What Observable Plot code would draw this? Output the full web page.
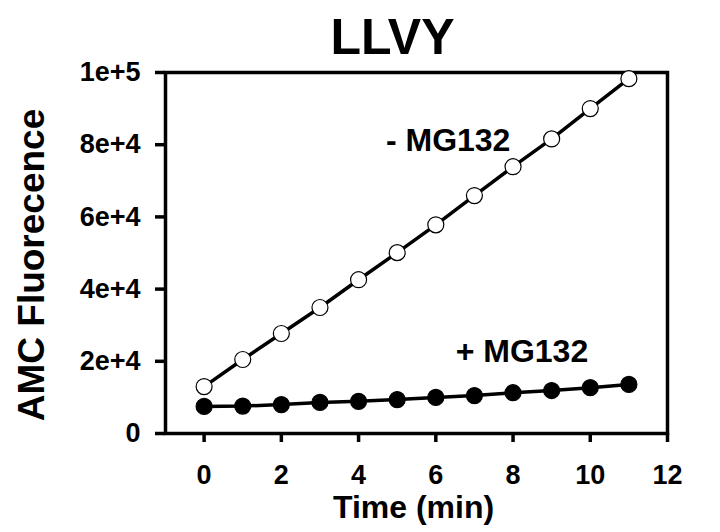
<!DOCTYPE html>
<html>
<head>
<meta charset="utf-8">
<script src="https://cdn.jsdelivr.net/npm/d3@7"></script>
<script src="https://cdn.jsdelivr.net/npm/@observablehq/plot@0.6"></script>
<style>
  html, body { margin: 0; padding: 0; background: #fff; }
  body { width: 720px; height: 532px; overflow: hidden; font-family: "Liberation Sans", Arial, sans-serif; }
  svg { display: block; }
  svg.llvy g[aria-label="y-axis tick label"],
  svg.llvy g[aria-label="x-axis tick label"] { font-size: 27px; font-weight: bold; }
</style>
</head>
<body>
<div id="chart"></div>
<script>
const chartTitle = "LLVY";
const time = [0, 1, 2, 3, 4, 5, 6, 7, 8, 9, 10, 11];
const minusMG132 = [13000, 20500, 27700, 34900, 42600, 50100, 57800, 65900, 73900, 81600, 90000, 98300];
const plusMG132 = [7500, 7600, 8000, 8600, 8900, 9400, 10000, 10500, 11300, 11900, 12700, 13600];
const xTicks = [0, 2, 4, 6, 8, 10, 12];
const yTicks = [0, 20000, 40000, 60000, 80000, 100000];
const yTickLabels = ["0", "2e+4", "4e+4", "6e+4", "8e+4", "1e+5"];
const xLabel = "Time (min)";
const yLabel = "AMC Fluorecence";
const annotationText = ["- MG132", "+ MG132"];
const annotationX = [6.32, 8.23];
const annotationY = [81000, 22700];

const minusData = time.map((t, i) => ({t, v: minusMG132[i]}));
const plusData = time.map((t, i) => ({t, v: plusMG132[i]}));
const annotations = annotationText.map((text, i) => ({text, x: annotationX[i], y: annotationY[i]}));
const font = "Liberation Sans, Arial, sans-serif";

const chart = Plot.plot({
  width: 720,
  height: 532,
  marginTop: 72,
  marginBottom: 99,
  marginLeft: 165,
  marginRight: 53,
  className: "llvy",
  style: {fontFamily: font, color: "#000", background: "#fff"},
  x: {domain: [-1, 12]},
  y: {domain: [0, 100000]},
  marks: [
    Plot.axisY({ticks: yTicks, tickFormat: d => yTickLabels[yTicks.indexOf(d)], tickSize: 10, tickPadding: 15, strokeWidth: 3.5, fontSize: 27, fontWeight: "bold", label: null}),
    Plot.axisX({ticks: xTicks, tickSize: 9, tickPadding: 22, strokeWidth: 3.5, fontSize: 27, fontWeight: "bold", label: null}),
    Plot.frame({stroke: "#000", strokeWidth: 3.5}),
    Plot.line(minusData, {x: "t", y: "v", stroke: "#000", strokeWidth: 3.5}),
    Plot.line(plusData, {x: "t", y: "v", stroke: "#000", strokeWidth: 3.5}),
    Plot.dot(minusData, {x: "t", y: "v", r: 8, fill: "#fff", stroke: "#000", strokeWidth: 1.2}),
    Plot.dot(plusData, {x: "t", y: "v", r: 8, fill: "#000", stroke: "#000", strokeWidth: 1.2}),
    Plot.text(annotations, {x: "x", y: "y", text: "text", fontSize: 32, fontWeight: "bold", fill: "#000"}),
    Plot.text([chartTitle], {frameAnchor: "top", text: d => d, textAnchor: "middle", lineAnchor: "middle", dx: -24, dy: -35, fontSize: 50, fontWeight: "bold", fill: "#000"}),
    Plot.text([xLabel], {frameAnchor: "bottom", text: d => d, textAnchor: "middle", lineAnchor: "middle", dx: -3, dy: 74, fontSize: 32, fontWeight: "bold", fill: "#000"}),
    Plot.text([yLabel], {frameAnchor: "left", text: d => d, textAnchor: "middle", lineAnchor: "middle", rotate: -90, dx: -133, dy: 12, fontSize: 37, fontWeight: "bold", fill: "#000"})
  ]
});
document.getElementById("chart").appendChild(chart);
</script>
</body>
</html>
